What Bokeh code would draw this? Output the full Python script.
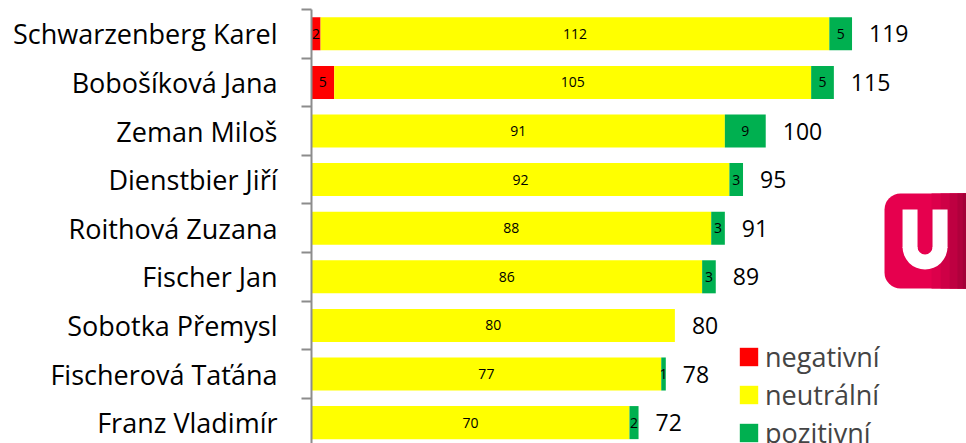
import math
from bokeh.plotting import figure
from bokeh.models import ColumnDataSource, Range1d, FixedTicker, Legend, LegendItem
from bokeh.core.properties import value
from bokeh.embed import file_html
from bokeh.resources import INLINE

names = ["Schwarzenberg Karel", "Bobošíková Jana", "Zeman Miloš", "Dienstbier Jiří",
         "Roithová Zuzana", "Fischer Jan", "Sobotka Přemysl", "Fischerová Taťána",
         "Franz Vladimír"]
negativni = [2, 5, 0, 0, 0, 0, 0, 0, 0]
neutralni = [112, 105, 91, 92, 88, 86, 80, 77, 70]
pozitivni = [5, 5, 9, 3, 3, 3, 0, 1, 2]
series_labels = ["negativní", "neutrální", "pozitivní"]
colors = ["#FF0000", "#FFFF00", "#00B050"]

FONT = "Open Sans"
n = len(names)
ypos = [n - 1 - i for i in range(n)]
neg_end = negativni[:]
neu_end = [a + b for a, b in zip(negativni, neutralni)]
tot = [a + b for a, b in zip(neu_end, pozitivni)]

src = ColumnDataSource(dict(
    y=ypos, zero=[0] * n, neg_end=neg_end, neu_end=neu_end, tot=tot,
    neg_mid=[v / 2 for v in negativni],
    neu_mid=[a + b / 2 for a, b in zip(negativni, neutralni)],
    pos_mid=[a + b / 2 for a, b in zip(neu_end, pozitivni)],
    neg_txt=[str(v) if v else "" for v in negativni],
    neu_txt=[str(v) if v else "" for v in neutralni],
    pos_txt=[str(v) if v else "" for v in pozitivni],
    tot_txt=[str(v) for v in tot],
))

W, H = 966, 443
p = figure(width=W, height=H, output_backend="svg", toolbar_location=None,
           x_range=Range1d(0, 144.2), y_range=Range1d(-0.43, n - 0.5),
           x_axis_location=None, min_border_left=311, min_border_right=0,
           min_border_top=9, min_border_bottom=0)
p.outline_line_color = None
p.xgrid.visible = False
p.ygrid.visible = False
p.background_fill_color = "white"
p.border_fill_color = "white"

bh = 0.68
r_neg = p.hbar(y="y", left="zero", right="neg_end", height=bh, fill_color=colors[0],
               line_color=None, source=src)
r_neu = p.hbar(y="y", left="neg_end", right="neu_end", height=bh, fill_color=colors[1],
               line_color=None, source=src)
r_pos = p.hbar(y="y", left="neu_end", right="tot", height=bh, fill_color=colors[2],
               line_color=None, source=src)

for xcol, tcol in [("neg_mid", "neg_txt"), ("neu_mid", "neu_txt"), ("pos_mid", "pos_txt")]:
    p.text(x=xcol, y="y", text=tcol, source=src, text_align="center",
           text_baseline="middle", text_font=value(FONT), text_font_size="14px",
           text_color="black")

p.text(x="tot", y="y", text="tot_txt", source=src, x_offset=17, text_align="left",
       text_baseline="middle", text_font=value(FONT), text_font_size="23px",
       text_color="black")

ax = p.yaxis[0]
ax.ticker = FixedTicker(ticks=ypos, minor_ticks=[v + 0.5 for v in ypos] + [-0.5])
ax.major_label_overrides = {y: nm for y, nm in zip(ypos, names)}
ax.major_label_text_font = FONT
ax.major_label_text_font_size = "27px"
ax.major_label_text_color = "black"
ax.major_label_standoff = 24
ax.major_tick_out = 0
ax.major_tick_in = 0
ax.minor_tick_out = 10
ax.minor_tick_in = 0
ax.minor_tick_line_color = "#8C8C8C"
ax.minor_tick_line_width = 2
ax.axis_line_color = "#8C8C8C"
ax.axis_line_width = 2

# logo (decoration, cut at right edge like the reference)
p.quad(left=126.15, right=170, top=4.714, bottom=2.759, fill_color="#E6004E",
       line_color=None, border_radius=16)
shade_left = [136.5, 138.5, 140.5, 142.2, 143.4]
shades = ["#DC004B", "#CE0046", "#BE0041", "#B0003C", "#A30037"]
p.quad(left=shade_left, right=[170] * 5, top=[4.714] * 5, bottom=[2.759] * 5,
       fill_color=shades, line_color=None)
# white "U" mark
p.quad(left=[130.12, 136.72], right=[133.42, 140.03], top=[4.385, 4.385],
       bottom=[3.60, 3.60], fill_color="white", line_color=None)
p.annular_wedge(x=[135.07], y=[3.613], inner_radius=7.5, outer_radius=22.5,
                inner_radius_units="screen", outer_radius_units="screen",
                start_angle=math.pi, end_angle=2 * math.pi, direction="anticlock",
                fill_color="white", line_color=None)

legend = Legend(items=[LegendItem(label=series_labels[0], renderers=[r_neg]),
                       LegendItem(label=series_labels[1], renderers=[r_neu]),
                       LegendItem(label=series_labels[2], renderers=[r_pos])],
                location=(426, -8), orientation="vertical",
                glyph_width=23, glyph_height=23, label_height=35, spacing=1,
                label_standoff=5, padding=0, margin=0,
                label_text_font=FONT, label_text_font_size="27px",
                border_line_color=None, background_fill_alpha=0)
p.add_layout(legend)

open("out.html", "w").write(file_html(p, INLINE))
